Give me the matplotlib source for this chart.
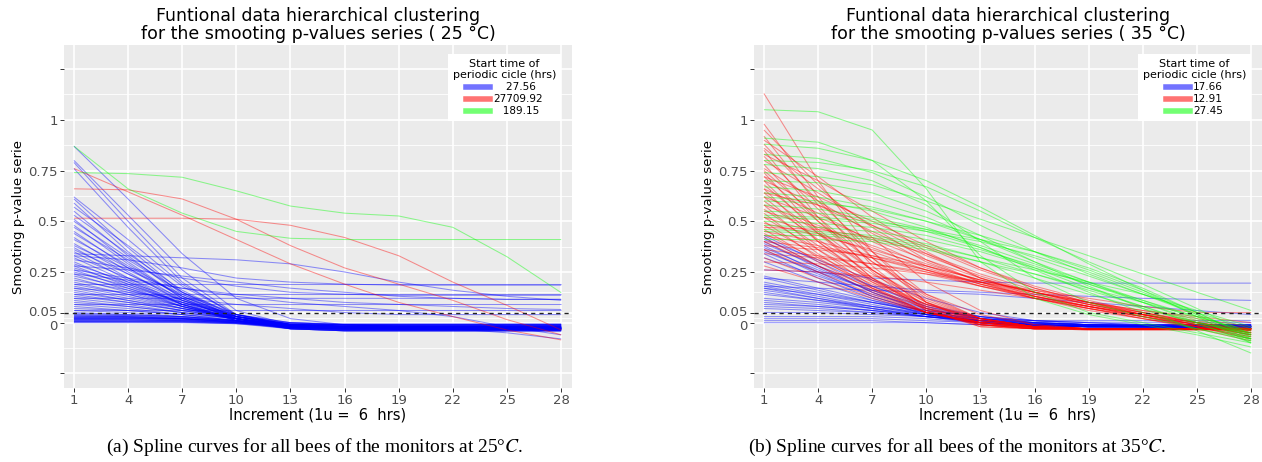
import matplotlib
matplotlib.use("Agg")
import matplotlib.pyplot as plt
from matplotlib.lines import Line2D
from matplotlib.transforms import ScaledTranslation

plt.rcParams['mathtext.fontset'] = 'stix'

# ---------------- data ----------------
increments = [1, 4, 7, 10, 13, 16, 19, 22, 25, 28]
x_tick_values = [1, 4, 7, 10, 13, 16, 19, 22, 25, 28]
y_tick_values = [-0.25, 0, 0.05, 0.25, 0.5, 0.75, 1, 1.25]
y_tick_labels = ["", "0", "0.05", "0.25", "0.5", "0.75", "1", ""]
y_minor_values = [-0.125, 0.025, 0.15, 0.375, 0.625, 0.875, 1.125]

legend_labels_25 = ["    27.56", "27709.92", "   189.15"]
legend_labels_35 = ["17.66", "12.91", "27.45"]

# 25 C : blue cluster
blue_25 = [
    [0.87, 0.61, 0.34, 0.12, 0.02, -0.01, -0.02, -0.02, -0.025, -0.03],
    [0.80, 0.53, 0.26, 0.06, -0.01, -0.02, -0.025, -0.025, -0.03, -0.03],
    [0.79, 0.50, 0.22, 0.04, -0.02, -0.025, -0.025, -0.03, -0.03, -0.035],
    [0.76, 0.47, 0.20, 0.03, -0.02, -0.03, -0.03, -0.03, -0.03, -0.03],
    [0.62, 0.41, 0.19, 0.04, -0.01, -0.02, -0.02, -0.025, -0.025, -0.025],
    [0.61, 0.37, 0.15, 0.02, -0.02, -0.025, -0.03, -0.03, -0.03, -0.03],
    [0.59, 0.35, 0.14, 0.02, -0.02, -0.03, -0.03, -0.03, -0.03, -0.035],
    [0.57, 0.38, 0.18, 0.04, -0.01, -0.015, -0.015, -0.015, -0.015, -0.015],
    [0.55, 0.33, 0.13, 0.02, -0.02, -0.025, -0.025, -0.025, -0.03, -0.03],
    [0.53, 0.34, 0.16, 0.03, -0.025, -0.035, -0.035, -0.035, -0.035, -0.035],
    [0.51, 0.30, 0.12, 0.01, -0.025, -0.03, -0.03, -0.03, -0.035, -0.035],
    [0.50, 0.32, 0.15, 0.03, -0.01, -0.01, -0.01, -0.01, -0.01, -0.01],
    [0.48, 0.29, 0.12, 0.02, -0.02, -0.025, -0.025, -0.025, -0.025, -0.03],
    [0.47, 0.31, 0.15, 0.04, -0.01, -0.02, -0.02, -0.02, -0.02, -0.025],
    [0.45, 0.27, 0.11, 0.02, -0.03, -0.04, -0.04, -0.04, -0.04, -0.04],
    [0.44, 0.28, 0.13, 0.03, -0.015, -0.02, -0.025, -0.025, -0.025, -0.025],
    [0.42, 0.25, 0.10, 0.01, -0.025, -0.03, -0.03, -0.03, -0.03, -0.03],
    [0.41, 0.27, 0.13, 0.03, -0.005, -0.01, -0.01, -0.01, -0.01, -0.01],
    [0.39, 0.24, 0.11, 0.02, -0.02, -0.025, -0.025, -0.03, -0.03, -0.03],
    [0.38, 0.26, 0.14, 0.04, -0.01, -0.02, -0.02, -0.02, -0.025, -0.025],
    [0.37, 0.22, 0.09, 0.01, -0.03, -0.04, -0.04, -0.04, -0.04, -0.04],
    [0.36, 0.24, 0.12, 0.03, -0.015, -0.02, -0.025, -0.025, -0.025, -0.025],
    [0.35, 0.21, 0.09, 0.01, -0.02, -0.025, -0.03, -0.03, -0.03, -0.03],
    [0.34, 0.33, 0.32, 0.31, 0.29, 0.25, 0.20, 0.16, 0.13, 0.11],
    [0.33, 0.31, 0.27, 0.22, 0.20, 0.19, 0.185, 0.185, 0.185, 0.185],
    [0.33, 0.22, 0.11, 0.03, -0.01, -0.015, -0.015, -0.015, -0.015, -0.015],
    [0.32, 0.20, 0.09, 0.02, -0.02, -0.025, -0.025, -0.025, -0.03, -0.03],
    [0.31, 0.27, 0.22, 0.18, 0.15, 0.14, 0.135, 0.135, 0.135, 0.135],
    [0.30, 0.19, 0.09, 0.02, -0.015, -0.02, -0.02, -0.02, -0.02, -0.02],
    [0.29, 0.20, 0.11, 0.04, 0.0, -0.005, -0.005, -0.005, -0.005, -0.005],
    [0.28, 0.26, 0.23, 0.20, 0.17, 0.15, 0.13, 0.12, 0.115, 0.115],
    [0.28, 0.18, 0.08, 0.01, -0.03, -0.035, -0.035, -0.035, -0.035, -0.035],
    [0.27, 0.19, 0.10, 0.03, -0.01, -0.02, -0.025, -0.025, -0.025, -0.025],
    [0.26, 0.17, 0.08, 0.02, -0.02, -0.025, -0.03, -0.03, -0.03, -0.03],
    [0.26, 0.22, 0.17, 0.13, 0.10, 0.08, 0.06, 0.03, -0.02, -0.06],
    [0.25, 0.18, 0.10, 0.03, -0.01, -0.01, -0.01, -0.01, -0.01, -0.01],
    [0.24, 0.16, 0.08, 0.02, -0.015, -0.025, -0.025, -0.025, -0.025, -0.03],
    [0.24, 0.21, 0.17, 0.14, 0.12, 0.10, 0.09, 0.08, 0.07, 0.065],
    [0.23, 0.17, 0.09, 0.03, -0.01, -0.02, -0.02, -0.025, -0.025, -0.025],
    [0.22, 0.15, 0.08, 0.02, -0.03, -0.04, -0.04, -0.04, -0.04, -0.04],
    [0.21, 0.16, 0.10, 0.04, 0.0, -0.01, -0.015, -0.02, -0.02, -0.02],
    [0.20, 0.14, 0.07, 0.02, -0.015, -0.02, -0.025, -0.025, -0.025, -0.025],
    [0.19, 0.19, 0.19, 0.19, 0.19, 0.19, 0.19, 0.19, 0.19, 0.19],
    [0.19, 0.14, 0.08, 0.03, -0.01, -0.02, -0.02, -0.02, -0.02, -0.02],
    [0.18, 0.13, 0.07, 0.02, -0.02, -0.025, -0.03, -0.03, -0.03, -0.03],
    [0.17, 0.15, 0.12, 0.09, 0.07, 0.05, 0.04, 0.04, 0.04, 0.04],
    [0.17, 0.12, 0.07, 0.02, -0.015, -0.02, -0.02, -0.025, -0.025, -0.025],
    [0.16, 0.11, 0.06, 0.02, -0.025, -0.035, -0.035, -0.035, -0.035, -0.035],
    [0.15, 0.11, 0.07, 0.03, -0.01, -0.015, -0.015, -0.015, -0.015, -0.015],
    [0.14, 0.14, 0.14, 0.14, 0.14, 0.14, 0.14, 0.14, 0.14, 0.14],
    [0.14, 0.10, 0.06, 0.02, -0.015, -0.025, -0.025, -0.025, -0.025, -0.025],
    [0.13, 0.10, 0.06, 0.03, 0.0, -0.01, -0.02, -0.02, -0.02, -0.02],
    [0.12, 0.12, 0.12, 0.12, 0.12, 0.12, 0.12, 0.12, 0.115, 0.115],
    [0.12, 0.09, 0.05, 0.02, -0.02, -0.03, -0.03, -0.03, -0.03, -0.03],
    [0.11, 0.08, 0.05, 0.02, -0.01, -0.02, -0.02, -0.025, -0.025, -0.025],
    [0.10, 0.08, 0.05, 0.02, -0.015, -0.02, -0.02, -0.02, -0.02, -0.02],
    [0.09, 0.09, 0.09, 0.09, 0.09, 0.09, 0.09, 0.09, 0.09, 0.09],
    [0.09, 0.07, 0.04, 0.01, -0.02, -0.025, -0.03, -0.03, -0.03, -0.03],
    [0.08, 0.06, 0.04, 0.02, -0.01, -0.01, -0.01, -0.01, -0.01, -0.01],
    [0.07, 0.06, 0.04, 0.01, -0.02, -0.03, -0.03, -0.03, -0.03, -0.03],
    [0.065, 0.065, 0.065, 0.065, 0.065, 0.065, 0.065, 0.065, 0.065, 0.065],
    [0.06, 0.05, 0.03, 0.01, -0.02, -0.025, -0.025, -0.025, -0.025, -0.025],
    [0.05, 0.04, 0.03, 0.01, -0.015, -0.02, -0.02, -0.02, -0.02, -0.02],
    [0.045, 0.04, 0.03, 0.01, -0.02, -0.03, -0.03, -0.03, -0.03, -0.035],
    [0.04, 0.035, 0.025, 0.01, -0.025, -0.035, -0.035, -0.035, -0.035, -0.035],
    [0.035, 0.03, 0.02, 0.005, -0.02, -0.025, -0.025, -0.025, -0.025, -0.025],
    [0.032, 0.03, 0.025, 0.01, -0.005, -0.01, -0.01, -0.01, -0.01, -0.01],
    [0.03, 0.03, 0.02, 0.0, -0.025, -0.03, -0.03, -0.03, -0.03, -0.03],
    [0.028, 0.026, 0.02, 0.005, -0.03, -0.04, -0.04, -0.04, -0.04, -0.04],
    [0.025, 0.025, 0.02, 0.005, -0.015, -0.02, -0.02, -0.02, -0.02, -0.02],
    [0.022, 0.022, 0.018, 0.005, -0.02, -0.025, -0.025, -0.025, -0.025, -0.025],
    [0.02, 0.02, 0.015, 0.0, -0.02, -0.03, -0.03, -0.03, -0.03, -0.03],
    [0.018, 0.018, 0.015, 0.005, -0.01, -0.015, -0.015, -0.015, -0.015, -0.015],
    [0.015, 0.015, 0.01, 0.0, -0.025, -0.035, -0.035, -0.035, -0.035, -0.035],
    [0.012, 0.012, 0.01, 0.0, -0.02, -0.03, -0.03, -0.03, -0.03, -0.03],
    [0.01, 0.01, 0.01, 0.0, -0.02, -0.025, -0.025, -0.025, -0.025, -0.025],
    [0.008, 0.008, 0.006, 0.0, -0.03, -0.04, -0.04, -0.04, -0.04, -0.04],
    [0.005, 0.005, 0.005, -0.005, -0.03, -0.035, -0.035, -0.035, -0.035, -0.035],
    [0.003, 0.003, 0.002, -0.004, -0.015, -0.02, -0.02, -0.02, -0.02, -0.02],
    [0.0, 0.0, 0.0, -0.005, -0.025, -0.03, -0.03, -0.03, -0.03, -0.03],
    [0.02, 0.02, 0.02, 0.01, 0.0, -0.01, -0.02, -0.03, -0.05, -0.08],
    [0.038, 0.035, 0.03, 0.015, -0.01, -0.02, -0.02, -0.02, -0.02, -0.02],
    [0.025, 0.024, 0.02, 0.01, -0.005, -0.01, -0.01, -0.01, -0.01, -0.01],
    [0.015, 0.015, 0.012, 0.005, -0.02, -0.025, -0.025, -0.025, -0.025, -0.025],
    [0.006, 0.006, 0.005, 0.0, -0.01, -0.015, -0.015, -0.015, -0.015, -0.015],
]

# 25 C : red cluster
red_25 = [
    [0.76, 0.645, 0.53, 0.41, 0.29, 0.19, 0.10, 0.03, -0.036, -0.085],
    [0.66, 0.655, 0.61, 0.51, 0.38, 0.27, 0.19, 0.11, 0.015, -0.06],
    [0.515, 0.515, 0.515, 0.51, 0.48, 0.42, 0.33, 0.20, 0.085, -0.036],
]

# 25 C : green cluster
green_25 = [
    [0.87, 0.66, 0.54, 0.45, 0.416, 0.41, 0.41, 0.41, 0.41, 0.41],
    [0.74, 0.735, 0.717, 0.65, 0.575, 0.54, 0.526, 0.47, 0.325, 0.148],
]

# 35 C : blue cluster
blue_35 = [
    [0.43, 0.30, 0.18, 0.08, 0.02, 0.0, -0.01, -0.02, -0.02, -0.02],
    [0.42, 0.28, 0.15, 0.05, 0.0, -0.01, -0.015, -0.02, -0.02, -0.02],
    [0.41, 0.31, 0.21, 0.12, 0.05, 0.01, -0.01, -0.015, -0.02, -0.02],
    [0.40, 0.27, 0.15, 0.06, 0.01, -0.01, -0.02, -0.02, -0.02, -0.02],
    [0.39, 0.28, 0.18, 0.09, 0.03, 0.0, -0.01, -0.015, -0.015, -0.015],
    [0.38, 0.25, 0.13, 0.05, 0.0, -0.015, -0.02, -0.02, -0.025, -0.025],
    [0.37, 0.26, 0.16, 0.07, 0.02, -0.005, -0.015, -0.02, -0.02, -0.02],
    [0.36, 0.24, 0.13, 0.05, 0.0, -0.01, -0.02, -0.02, -0.02, -0.02],
    [0.35, 0.25, 0.16, 0.08, 0.03, 0.0, -0.01, -0.01, -0.01, -0.01],
    [0.34, 0.22, 0.12, 0.04, 0.0, -0.015, -0.02, -0.025, -0.025, -0.025],
    [0.32, 0.23, 0.14, 0.07, 0.02, 0.0, -0.01, -0.015, -0.015, -0.015],
    [0.30, 0.20, 0.11, 0.04, 0.0, -0.01, -0.02, -0.02, -0.02, -0.02],
    [0.26, 0.25, 0.22, 0.21, 0.20, 0.195, 0.195, 0.195, 0.195, 0.195],
    [0.22, 0.20, 0.18, 0.16, 0.15, 0.14, 0.13, 0.12, 0.115, 0.11],
    [0.23, 0.17, 0.11, 0.06, 0.03, 0.01, 0.0, -0.01, -0.01, -0.01],
    [0.22, 0.16, 0.10, 0.05, 0.01, -0.01, -0.02, -0.02, -0.02, -0.02],
    [0.20, 0.15, 0.10, 0.05, 0.02, 0.0, -0.01, -0.015, -0.015, -0.015],
    [0.19, 0.14, 0.09, 0.04, 0.01, -0.01, -0.015, -0.02, -0.02, -0.02],
    [0.18, 0.17, 0.16, 0.15, 0.14, 0.12, 0.10, 0.08, 0.06, 0.04],
    [0.18, 0.13, 0.08, 0.04, 0.01, -0.01, -0.02, -0.02, -0.02, -0.02],
    [0.17, 0.14, 0.10, 0.06, 0.03, 0.01, 0.0, 0.0, 0.0, 0.0],
    [0.17, 0.12, 0.07, 0.03, 0.0, -0.015, -0.02, -0.02, -0.025, -0.025],
    [0.16, 0.12, 0.08, 0.04, 0.01, -0.005, -0.01, -0.015, -0.015, -0.015],
    [0.15, 0.11, 0.07, 0.03, 0.0, -0.01, -0.02, -0.02, -0.02, -0.02],
    [0.14, 0.11, 0.08, 0.05, 0.02, 0.01, 0.0, -0.01, -0.01, -0.01],
    [0.12, 0.10, 0.07, 0.04, 0.01, -0.01, -0.015, -0.02, -0.02, -0.02],
    [0.11, 0.09, 0.06, 0.03, 0.0, -0.01, -0.02, -0.02, -0.02, -0.02],
    [0.10, 0.08, 0.06, 0.03, 0.01, 0.0, -0.01, -0.01, -0.01, -0.01],
    [0.09, 0.08, 0.06, 0.04, 0.02, 0.01, 0.01, 0.01, 0.01, 0.01],
    [0.08, 0.07, 0.05, 0.03, 0.01, -0.01, -0.015, -0.015, -0.015, -0.015],
    [0.07, 0.06, 0.05, 0.03, 0.01, 0.0, -0.01, -0.01, -0.01, -0.01],
    [0.05, 0.05, 0.04, 0.03, 0.01, -0.005, -0.01, -0.015, -0.015, -0.015],
    [0.03, 0.03, 0.03, 0.02, 0.0, -0.01, -0.02, -0.02, -0.02, -0.02],
    [0.02, 0.02, 0.02, 0.01, 0.0, -0.01, -0.015, -0.015, -0.015, -0.015],
    [0.01, 0.01, 0.01, 0.0, -0.01, -0.02, -0.02, -0.02, -0.02, -0.02],
    [0.0, 0.0, 0.0, 0.0, -0.01, -0.015, -0.02, -0.02, -0.02, -0.02],
]

# 35 C : red cluster
red_35 = [
    [1.13, 0.70, 0.35, 0.10, -0.01, -0.03, -0.03, -0.03, -0.03, -0.03],
    [0.98, 0.62, 0.32, 0.10, 0.0, -0.03, -0.035, -0.035, -0.035, -0.035],
    [0.95, 0.68, 0.42, 0.20, 0.06, -0.01, -0.03, -0.03, -0.03, -0.03],
    [0.92, 0.58, 0.28, 0.07, -0.02, -0.03, -0.035, -0.035, -0.035, -0.035],
    [0.88, 0.60, 0.35, 0.14, 0.02, -0.02, -0.03, -0.03, -0.03, -0.03],
    [0.85, 0.52, 0.25, 0.06, -0.02, -0.03, -0.03, -0.03, -0.03, -0.03],
    [0.82, 0.56, 0.32, 0.13, 0.02, -0.02, -0.03, -0.03, -0.03, -0.03],
    [0.78, 0.50, 0.26, 0.08, -0.01, -0.03, -0.035, -0.035, -0.035, -0.035],
    [0.75, 0.52, 0.30, 0.12, 0.02, -0.02, -0.03, -0.03, -0.03, -0.03],
    [0.74, 0.45, 0.22, 0.06, -0.01, -0.03, -0.03, -0.03, -0.03, -0.03],
    [0.72, 0.50, 0.30, 0.14, 0.04, -0.01, -0.03, -0.03, -0.03, -0.03],
    [0.70, 0.44, 0.22, 0.07, 0.0, -0.025, -0.03, -0.03, -0.03, -0.03],
    [0.68, 0.46, 0.26, 0.10, 0.01, -0.02, -0.03, -0.03, -0.03, -0.03],
    [0.66, 0.40, 0.20, 0.06, -0.01, -0.03, -0.03, -0.03, -0.03, -0.03],
    [0.64, 0.44, 0.26, 0.11, 0.02, -0.02, -0.03, -0.03, -0.03, -0.03],
    [0.62, 0.40, 0.21, 0.07, 0.0, -0.025, -0.03, -0.03, -0.03, -0.03],
    [0.60, 0.41, 0.24, 0.10, 0.02, -0.02, -0.03, -0.03, -0.03, -0.03],
    [0.58, 0.36, 0.18, 0.05, -0.01, -0.03, -0.03, -0.03, -0.03, -0.03],
    [0.56, 0.38, 0.22, 0.09, 0.01, -0.02, -0.03, -0.03, -0.03, -0.03],
    [0.54, 0.34, 0.17, 0.05, -0.01, -0.03, -0.03, -0.03, -0.03, -0.03],
    [0.52, 0.36, 0.21, 0.09, 0.02, -0.02, -0.03, -0.03, -0.03, -0.03],
    [0.50, 0.32, 0.17, 0.05, 0.0, -0.025, -0.03, -0.03, -0.03, -0.03],
    [0.48, 0.33, 0.20, 0.09, 0.02, -0.02, -0.03, -0.03, -0.03, -0.03],
    [0.46, 0.30, 0.16, 0.05, 0.0, -0.025, -0.03, -0.03, -0.03, -0.03],
    [0.44, 0.31, 0.19, 0.08, 0.01, -0.02, -0.03, -0.03, -0.03, -0.03],
    [0.42, 0.28, 0.15, 0.05, 0.0, -0.025, -0.03, -0.03, -0.03, -0.03],
    [0.40, 0.28, 0.17, 0.07, 0.01, -0.02, -0.03, -0.03, -0.03, -0.03],
    [0.36, 0.25, 0.14, 0.05, 0.0, -0.025, -0.03, -0.03, -0.03, -0.03],
    [0.32, 0.22, 0.13, 0.05, 0.0, -0.02, -0.03, -0.03, -0.03, -0.03],
    [0.28, 0.20, 0.12, 0.05, 0.0, -0.02, -0.03, -0.03, -0.03, -0.03],
    [0.90, 0.72, 0.52, 0.35, 0.22, 0.13, 0.07, 0.02, -0.02, -0.05],
    [0.86, 0.66, 0.47, 0.31, 0.20, 0.12, 0.06, 0.02, -0.02, -0.06],
    [0.80, 0.64, 0.48, 0.34, 0.22, 0.14, 0.08, 0.03, -0.02, -0.07],
    [0.76, 0.60, 0.44, 0.30, 0.20, 0.13, 0.08, 0.03, -0.01, -0.04],
    [0.70, 0.58, 0.45, 0.33, 0.23, 0.15, 0.09, 0.04, -0.01, -0.06],
    [0.66, 0.54, 0.40, 0.28, 0.19, 0.12, 0.07, 0.03, -0.02, -0.08],
    [0.62, 0.52, 0.41, 0.31, 0.22, 0.15, 0.09, 0.04, -0.01, -0.05],
    [0.58, 0.48, 0.37, 0.27, 0.19, 0.13, 0.08, 0.03, -0.02, -0.07],
    [0.55, 0.47, 0.38, 0.29, 0.21, 0.15, 0.10, 0.05, 0.0, -0.04],
    [0.52, 0.44, 0.35, 0.26, 0.18, 0.12, 0.07, 0.02, -0.03, -0.09],
    [0.49, 0.43, 0.36, 0.28, 0.21, 0.15, 0.10, 0.06, 0.02, -0.02],
    [0.47, 0.46, 0.42, 0.34, 0.24, 0.16, 0.10, 0.05, 0.0, -0.05],
    [0.45, 0.40, 0.33, 0.26, 0.19, 0.13, 0.08, 0.04, 0.0, -0.04],
    [0.43, 0.38, 0.32, 0.25, 0.18, 0.12, 0.07, 0.03, -0.01, -0.06],
    [0.40, 0.37, 0.32, 0.26, 0.20, 0.14, 0.09, 0.05, 0.01, -0.03],
    [0.38, 0.36, 0.33, 0.28, 0.21, 0.15, 0.09, 0.04, -0.01, -0.06],
    [0.36, 0.33, 0.29, 0.24, 0.18, 0.13, 0.08, 0.04, 0.0, -0.04],
    [0.34, 0.32, 0.29, 0.25, 0.20, 0.15, 0.10, 0.06, 0.03, 0.0],
    [0.30, 0.29, 0.27, 0.24, 0.20, 0.16, 0.12, 0.08, 0.05, 0.05],
    [0.26, 0.25, 0.23, 0.20, 0.16, 0.12, 0.08, 0.04, 0.0, -0.03],
    [0.72, 0.62, 0.50, 0.38, 0.27, 0.18, 0.11, 0.05, 0.0, -0.05],
    [0.64, 0.58, 0.48, 0.37, 0.26, 0.17, 0.10, 0.04, -0.02, -0.08],
    [0.83, 0.70, 0.55, 0.40, 0.27, 0.17, 0.10, 0.04, -0.01, -0.05],
]

# 35 C : green cluster
green_35 = [
    [1.05, 1.04, 0.95, 0.66, 0.30, 0.12, 0.04, -0.01, -0.06, -0.12],
    [0.91, 0.89, 0.80, 0.60, 0.33, 0.15, 0.05, 0.00, -0.05, -0.10],
    [0.88, 0.86, 0.80, 0.70, 0.57, 0.43, 0.29, 0.16, 0.03, -0.10],
    [0.83, 0.81, 0.74, 0.62, 0.48, 0.35, 0.24, 0.14, 0.05, -0.03],
    [0.80, 0.79, 0.75, 0.67, 0.55, 0.42, 0.30, 0.19, 0.07, -0.06],
    [0.74, 0.72, 0.68, 0.60, 0.51, 0.42, 0.33, 0.24, 0.15, 0.06],
    [0.70, 0.69, 0.64, 0.55, 0.43, 0.30, 0.18, 0.07, -0.04, -0.15],
    [0.67, 0.65, 0.60, 0.52, 0.41, 0.30, 0.20, 0.10, 0.0, -0.10],
    [0.64, 0.62, 0.57, 0.50, 0.41, 0.32, 0.23, 0.14, 0.04, -0.06],
    [0.60, 0.59, 0.56, 0.50, 0.43, 0.35, 0.26, 0.16, 0.05, -0.07],
    [0.58, 0.56, 0.52, 0.46, 0.38, 0.29, 0.20, 0.11, 0.02, -0.07],
    [0.55, 0.54, 0.51, 0.45, 0.37, 0.27, 0.17, 0.08, -0.01, -0.08],
    [0.52, 0.51, 0.49, 0.45, 0.40, 0.33, 0.25, 0.15, 0.04, -0.09],
    [0.50, 0.49, 0.47, 0.43, 0.36, 0.28, 0.19, 0.10, 0.01, -0.08],
    [0.48, 0.47, 0.45, 0.41, 0.35, 0.27, 0.19, 0.11, 0.03, -0.05],
    [0.46, 0.45, 0.43, 0.39, 0.32, 0.24, 0.16, 0.08, 0.0, -0.06],
    [0.45, 0.44, 0.42, 0.38, 0.32, 0.26, 0.20, 0.14, 0.06, -0.02],
    [0.43, 0.43, 0.41, 0.37, 0.30, 0.22, 0.14, 0.07, 0.0, -0.05],
    [0.41, 0.41, 0.40, 0.36, 0.30, 0.24, 0.17, 0.10, 0.03, -0.04],
    [0.62, 0.60, 0.55, 0.47, 0.37, 0.26, 0.15, 0.05, -0.03, -0.09],
    [0.53, 0.52, 0.50, 0.46, 0.41, 0.35, 0.27, 0.17, 0.05, -0.08],
    [0.78, 0.76, 0.70, 0.58, 0.40, 0.22, 0.10, 0.03, -0.03, -0.08],
]

# ---------------- figure ----------------
W, H = 1262, 462
fig = plt.figure(figsize=(W / 100, H / 100), dpi=100)

BLUE, RED, GREEN = "#0000FF", "#FF0000", "#00FF00"
ALPHA = 0.42
LW = 0.75


def px_rect(x0, y0, x1, y1):
    return [x0 / W, 1 - y1 / H, (x1 - x0) / W, (y1 - y0) / H]


def panel(rect, blue, red, green, temp, legend_labels, caption, cap_x):
    ax = fig.add_axes(rect)
    ax.set_facecolor("#EBEBEB")
    for s in ax.spines.values():
        s.set_visible(False)
    ax.set_xlim(0.45, 28.6)
    ax.set_ylim(-0.322, 1.369)
    ax.set_xticks(x_tick_values)
    ax.set_yticks(y_tick_values)
    ax.set_yticklabels(y_tick_labels)
    ax.set_yticks(y_minor_values, minor=True)
    ax.grid(which="major", color="white", linewidth=1.2)
    ax.grid(which="minor", axis="y", color="white", linewidth=0.6)
    ax.set_axisbelow(True)
    ax.tick_params(which="major", length=3, width=0.7, color="#333333",
                   labelcolor="#4D4D4D", labelsize=9.5, pad=1.5)
    ax.tick_params(which="minor", length=0)
    # nudge the close "0" / "0.05" labels apart slightly
    labels = ax.get_yticklabels()
    labels[1].set_transform(labels[1].get_transform() +
                            ScaledTranslation(0, -2 / 100, fig.dpi_scale_trans))
    labels[2].set_transform(labels[2].get_transform() +
                            ScaledTranslation(0, 1.5 / 100, fig.dpi_scale_trans))

    for vals in blue:
        ax.plot(increments, vals, color=BLUE, alpha=ALPHA, lw=LW, solid_capstyle="butt")
    for vals in red:
        ax.plot(increments, vals, color=RED, alpha=ALPHA, lw=LW, solid_capstyle="butt")
    for vals in green:
        ax.plot(increments, vals, color=GREEN, alpha=ALPHA, lw=LW, solid_capstyle="butt")

    ax.axhline(0.05, color="#222222", lw=1.0, ls=(0, (3, 3)))

    ax.set_xlabel("Increment (1u =  6  hrs)", fontsize=10.5, labelpad=0)
    ax.set_ylabel("Smooting p-value serie", fontsize=9.5, labelpad=2)
    ax.set_title("Funtional data hierarchical clustering\nfor the smooting p-values series ( %s \u00b0C)" % temp,
                 fontsize=12.5, pad=4, linespacing=1.0)

    handles = [Line2D([], [], color=c, lw=4, alpha=0.55) for c in (BLUE, RED, GREEN)]
    leg = ax.legend(handles, legend_labels, title="Start time of\nperiodic cicle (hrs)",
                    loc="upper right", bbox_to_anchor=(0.978, 0.974), fontsize=7.5,
                    title_fontsize=8, frameon=True, fancybox=False, framealpha=1,
                    edgecolor="white", handlelength=2.3, handletextpad=0.3,
                    labelspacing=0.2, borderpad=0.45, borderaxespad=0)
    leg.get_title().set_multialignment("center")
    leg.get_frame().set_linewidth(0)

    fig.text(cap_x / W, 1 - 447 / H, caption, ha="center", va="center",
             fontsize=14, family="Liberation Serif")
    return ax


panel(px_rect(64, 45, 572, 388), blue_25, red_25, green_25, "25", legend_labels_25,
      "(a) Spline curves for all bees of the monitors at 25\u00b0$C$.", 315)
panel(px_rect(754, 45, 1262, 388), blue_35, red_35, green_35, "35", legend_labels_35,
      "(b) Spline curves for all bees of the monitors at 35\u00b0$C$.", 957)

fig.savefig("out.png", dpi=100, facecolor="white")
